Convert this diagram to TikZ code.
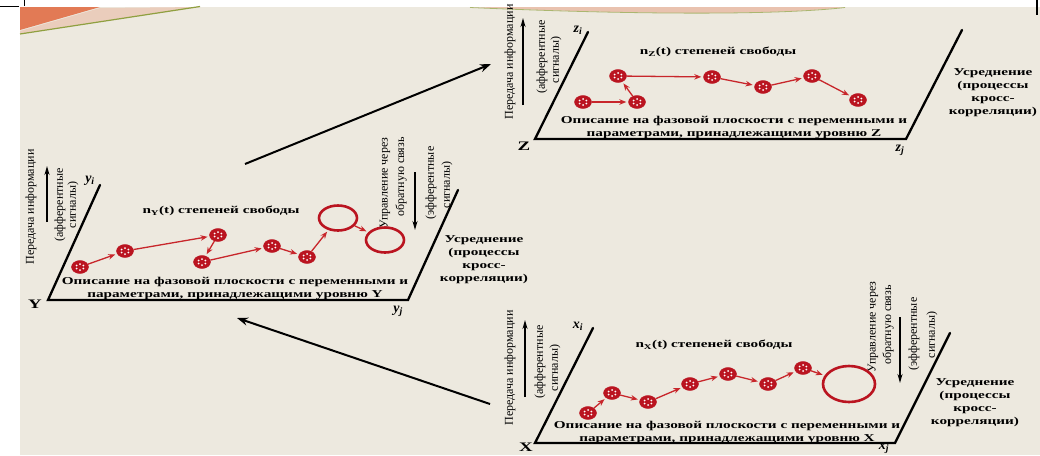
\documentclass[tikz,border=0pt]{standalone}
\usepackage{fontspec}
\setmainfont{Liberation Serif}
\newfontfamily\wide[FakeStretch=1.45]{Liberation Serif}
\newfontfamily\narrowf{Liberation Serif}
\usetikzlibrary{shapes.geometric,arrows.meta}
\definecolor{bg}{HTML}{EDE9DF}
\definecolor{nred}{HTML}{BA1420}
\definecolor{lred}{HTML}{C8262B}
\definecolor{swo}{HTML}{E27A55}
\definecolor{swl}{HTML}{8FA040}
\begin{document}
\begin{tikzpicture}[x=1pt,y=-1pt,
  dot/.style={ellipse, fill=nred, draw=nred, inner sep=0pt, minimum width=17pt, minimum height=13pt,
    path picture={\foreach \a in {30,90,...,330} \fill[white] (path picture bounding box.center) ++(\a:4 and 3) circle (1);}},
  ring/.style={ellipse, draw=nred, line width=2.6pt, inner sep=0pt, minimum width=38pt, minimum height=25pt},
  link/.style={draw=lred, line width=1.3pt, -{Stealth[length=7pt,width=5.5pt]}, shorten >=2pt},
  axis/.style={line width=2.3pt, line cap=round, line join=miter},
  big/.style={line width=2pt, -{Stealth[length=11pt,width=8pt]}},
  upar/.style={line width=1.5pt, -{Stealth[length=9pt,width=5pt]}},
  lbl/.style={font=\wide\bfseries\fontsize{10.5}{13}\selectfont, align=center, inner sep=0pt},
  rot/.style={rotate=90, font=\narrowf\fontsize{12}{14}\selectfont, inner sep=0pt},
  corner/.style={font=\wide\bfseries\fontsize{13}{15}\selectfont, inner sep=0pt},
  ax/.style={font=\bfseries\itshape\fontsize{14}{16}\selectfont, inner sep=0pt},
  avg/.style={font=\wide\bfseries\fontsize{10.5}{13}\selectfont, align=center, inner sep=0pt}
]
\useasboundingbox (0,0) rectangle (1040,455);
\fill[white] (0,0) rectangle (1040,455);
\fill[bg] (20,7) rectangle (1040,455);
% decorative swooshes
\fill[swo] (20,7) -- (100,7) -- (20,30) -- cycle;
\fill[swo!25!bg] (20,31) -- (100,8) -- (200,7) -- (20,34) -- cycle;
\draw[line width=1.2pt, swl] (20,34) -- (200,6.5);
\fill[swo!35!bg] (470,7) .. controls (640,15) and (780,15) .. (845,7) -- cycle;
\draw[swl!70!bg, line width=0.8pt] (470,7.5) .. controls (640,15) and (780,15) .. (845,7.5);
\draw[line width=1.3pt] (0,6.5) -- (19,6.5);
\draw[line width=1pt] (24,0) -- (24,6);
\draw[line width=1.3pt] (1037,0) -- (1037,15);

% ================= Panel Y =================
\coordinate (Y0) at (48,300);
\coordinate (Yi) at (100,185);
\coordinate (Yj) at (408,300);
\coordinate (Yt) at (458,190);
\draw[axis] (Yi) -- (Y0) -- (Yj) -- (Yt);
\node[corner] (Ylab) at (35,304) {Y};
\node[ax] (yil) at (90,181) {y\textsubscript{i}};
\node[ax] (yjl) at (398,311) {y\textsubscript{j}};
\node[rot] (Ytr) at (31,207) {Передача информации};
\coordinate (Yup0) at (47,222); \coordinate (Yup1) at (47,166);
\draw[upar] (Yup0) -- (Yup1);
\node[rot] (Yaf) at (60,205) {(афферентные};
\node[rot] (Ysg) at (73,205) {сигналы)};
\node[rot] (Yctl) at (385,183) {Управление через};
\node[rot] (Yfb) at (401,177) {обратную связь};
\coordinate (Ydn0) at (415,172); \coordinate (Ydn1) at (415,230);
\draw[upar] (Ydn0) -- (Ydn1);
\node[rot] (Yef) at (431,183) {(эфферентные};
\node[rot] (Ysg2) at (447,185) {сигналы)};
\node[lbl] (Ydeg) at (221,211) {n\textsubscript{Y}(t) степеней свободы};
\node[lbl] (Ydesc) at (235,288) {Описание на фазовой плоскости с переменными и\\параметрами, принадлежащими уровню Y};
\node[avg] (Yavg) at (484,260) {Усреднение\\(процессы\\кросс-\\корреляции)};
\node[dot] (y1) at (80,267) {};
\node[dot] (y2) at (125,251) {};
\node[dot] (y3) at (218,235) {};
\node[dot] (y4) at (202,262) {};
\node[dot] (y5) at (272,246) {};
\node[dot] (y6) at (307,257) {};
\node[ring] (y7) at (338,218) {};
\node[ring] (y8) at (385,240) {};
\draw[link] (y1) -- (y2);
\draw[link] (y2) -- (y3);
\draw[link] (y3) -- (y4);
\draw[link] (y4) -- (y5);
\draw[link] (y5) -- (y6);
\draw[link] (y6) -- (y7);
\draw[link] (y7) -- (y8);

% ================= Panel Z =================
\coordinate (Z0) at (535,139);
\coordinate (Zi) at (588,32);
\coordinate (Zj) at (906,139);
\coordinate (Zt) at (962,30);
\draw[axis] (Zi) -- (Z0) -- (Zj) -- (Zt);
\node[corner] (Zlab) at (524,146) {Z};
\node[ax] (zil) at (578,30) {z\textsubscript{i}};
\node[ax] (zjl) at (900,150) {z\textsubscript{j}};
\node[rot] (Ztr) at (510,62) {Передача информации};
\coordinate (Zup0) at (523,105); \coordinate (Zup1) at (523,18);
\draw[upar] (Zup0) -- (Zup1);
\node[rot] (Zaf) at (542,57) {(афферентные};
\node[rot] (Zsg) at (556,60) {сигналы)};
\node[lbl] (Zdeg) at (718,52) {n\textsubscript{Z}(t) степеней свободы};
\node[lbl] (Zdesc) at (734,127) {Описание на фазовой плоскости с переменными и\\параметрами, принадлежащими уровню Z};
\node[avg] (Zavg) at (993,93) {Усреднение\\(процессы\\кросс-\\корреляции)};
\node[dot] (z1) at (583,102) {};
\node[dot] (z2) at (637,102) {};
\node[dot] (z3) at (618,76) {};
\node[dot] (z4) at (712,77) {};
\node[dot] (z5) at (763,87) {};
\node[dot] (z6) at (812,76) {};
\node[dot] (z7) at (858,100) {};
\draw[link] (z1) -- (z2);
\draw[link] (z2) -- (z3);
\draw[link] (z3) -- (z4);
\draw[link] (z4) -- (z5);
\draw[link] (z5) -- (z6);
\draw[link] (z6) -- (z7);

% ================= Panel X =================
\coordinate (X0) at (535,443);
\coordinate (Xi) at (593,328);
\coordinate (Xj) at (895,443);
\coordinate (Xt) at (950,333);
\draw[axis] (Xi) -- (X0) -- (Xj) -- (Xt);
\node[corner] (Xlab) at (526,447) {X};
\node[ax] (xil) at (578,326) {x\textsubscript{i}};
\node[ax] (xjl) at (884,448) {x\textsubscript{j}};
\node[rot] (Xtr) at (510,368) {Передача информации};
\coordinate (Xup0) at (525,397); \coordinate (Xup1) at (525,320);
\draw[upar] (Xup0) -- (Xup1);
\node[rot] (Xaf) at (540,362) {(афферентные};
\node[rot] (Xsg) at (555,368) {сигналы)};
\node[rot] (Xctl) at (873,327) {Управление через};
\node[rot] (Xfb) at (888,325) {обратную связь};
\coordinate (Xdn0) at (900,317); \coordinate (Xdn1) at (900,383);
\draw[upar] (Xdn0) -- (Xdn1);
\node[rot] (Xef) at (914,334) {(эфферентные};
\node[rot] (Xsg2) at (932,335) {сигналы)};
\node[lbl] (Xdeg) at (714,345) {n\textsubscript{X}(t) степеней свободы};
\node[lbl] (Xdesc) at (727,432) {Описание на фазовой плоскости с переменными и\\параметрами, принадлежащими уровню X};
\node[avg] (Xavg) at (975,403) {Усреднение\\(процессы\\кросс-\\корреляции)};
\node[dot] (x1) at (588,413) {};
\node[dot] (x2) at (612,393) {};
\node[dot] (x3) at (648,402) {};
\node[dot] (x4) at (690,384) {};
\node[dot] (x5) at (728,374) {};
\node[dot] (x6) at (768,384) {};
\node[dot] (x7) at (803,368) {};
\node[ring, minimum width=52pt, minimum height=36pt] (x8) at (849,384) {};
\draw[link] (x1) -- (x2);
\draw[link] (x2) -- (x3);
\draw[link] (x3) -- (x4);
\draw[link] (x4) -- (x5);
\draw[link] (x5) -- (x6);
\draw[link] (x6) -- (x7);
\draw[link] (x7) -- (x8);

% ================= Level connectors =================
\coordinate (A1s) at (245,164); \coordinate (A1e) at (491,64);
\draw[big] (A1s) -- (A1e);
\coordinate (A2s) at (490,404); \coordinate (A2e) at (237,318);
\draw[big] (A2s) -- (A2e);
\end{tikzpicture}
\end{document}
